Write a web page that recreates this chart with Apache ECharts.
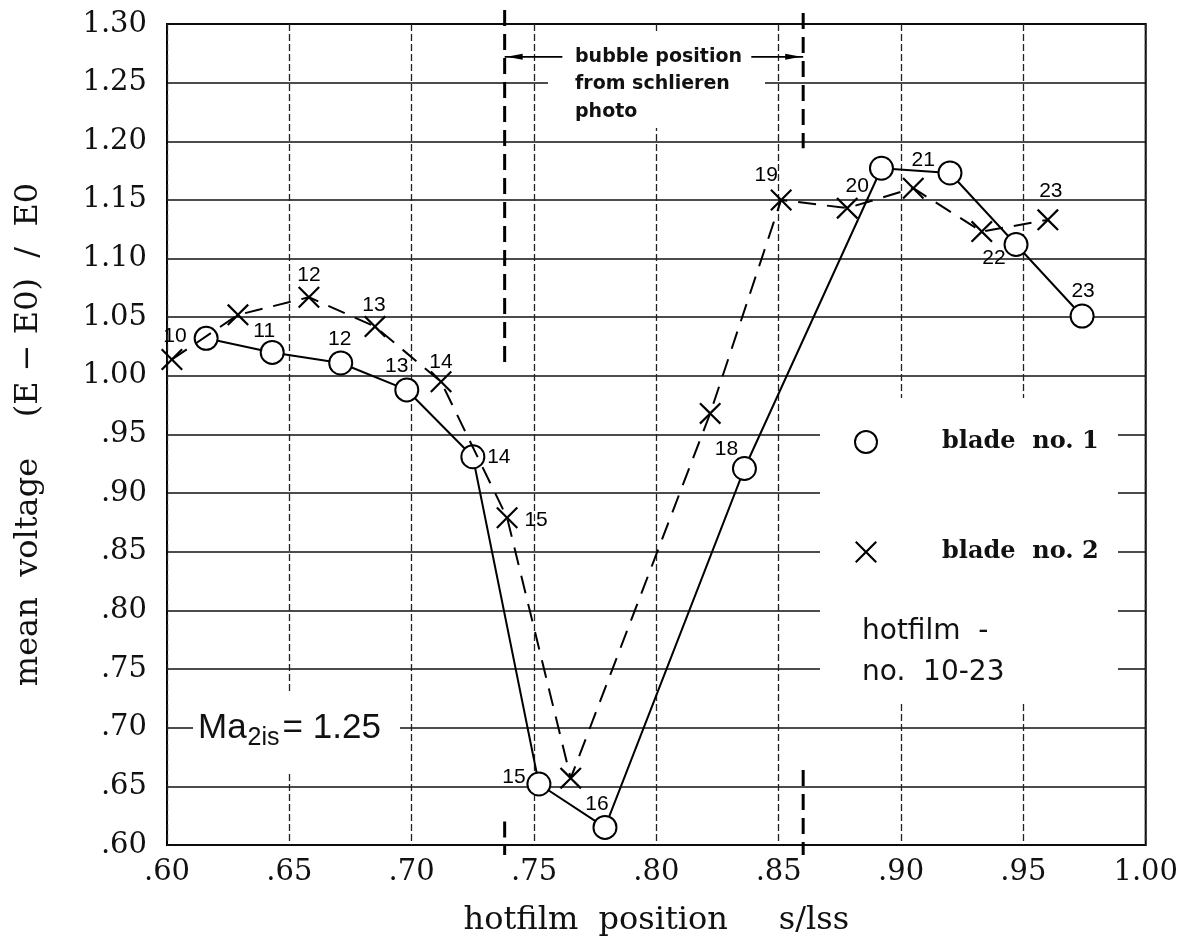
<!DOCTYPE html>
<html><head><meta charset="utf-8">
<script src="https://cdn.jsdelivr.net/npm/echarts@6/dist/echarts.min.js"></script>
<style>html,body{margin:0;padding:0;background:#fff}#c{width:1181px;height:945px}</style>
</head><body><div id="c"></div>
<script>
// ---- data ----
const blade1Ids = [10, 11, 12, 13, 14, 15, 16, 18, 20, 21, 22, 23];
const blade1X   = [0.616, 0.643, 0.671, 0.698, 0.725, 0.752, 0.779, 0.836, 0.892, 0.920, 0.947, 0.974];
const blade1Y   = [1.032, 1.020, 1.011, 0.988, 0.931, 0.652, 0.615, 0.921, 1.177, 1.173, 1.112, 1.051];

const blade2Ids = [10, 11, 12, 13, 14, 15, 16, 18, 19, 20, 21, 22, 23];
const blade2X   = [0.602, 0.629, 0.658, 0.685, 0.712, 0.739, 0.765, 0.822, 0.851, 0.878, 0.905, 0.933, 0.960];
const blade2Y   = [1.014, 1.052, 1.067, 1.042, 0.995, 0.879, 0.657, 0.968, 1.150, 1.143, 1.160, 1.123, 1.133];

const seriesNames = ['blade no. 1', 'blade no. 2'];
const bubbleRange = [0.738, 0.860];      // bubble position from schlieren photo
const machNumber = '1.25';
const xAxisName = 'hotfilm  position     s/lss';
const yAxisName = 'mean  voltage    (E − E0)  /  E0';

// ---- label placement (styling, not data) ----
const blade1LabelOffsets = {11:[-8,-21], 12:[-1,-24], 13:[-10,-24], 14:[26,0], 15:[-25,-7], 16:[-8,-23], 18:[-18,-19], 22:[-22,14], 23:[1,-25]};
const blade2LabelOffsets = {10:[3,-23], 12:[0,-22], 13:[-1,-21], 14:[0,-20], 15:[29,2], 19:[-15,-25], 20:[10,-22], 21:[10,-28], 23:[3,-29]};

const X_PATH = 'path://M0,0.7L0.7,0L5,4.3L9.3,0L10,0.7L5.7,5L10,9.3L9.3,10L5,5.7L0.7,10L0,9.3L4.3,5Z';
const labelFont = {fontFamily: 'Liberation Sans', fontSize: 21, color: '#000'};

function buildData(xs, ys, ids, offsets) {
  return xs.map((x, i) => {
    const item = {value: [x, ys[i]]};
    const off = offsets[ids[i]];
    if (off) {
      item.label = Object.assign({show: true, formatter: String(ids[i]), position: 'inside', offset: off}, labelFont);
    }
    return item;
  });
}
const fmtTick = v => { const s = (Math.round(v * 100) / 100).toFixed(2); return v < 0.999 ? s.slice(1) : s; };

const chart = echarts.init(document.getElementById('c'));
chart.setOption({
  animation: false,
  backgroundColor: '#fff',
  grid: {left: 167, right: 34, top: 24, bottom: 100, show: true, borderColor: '#000', borderWidth: 2, backgroundColor: 'transparent'},
  xAxis: {
    type: 'value', min: 0.6, max: 1.0, interval: 0.05,
    name: xAxisName, nameLocation: 'middle', nameGap: 60,
    nameTextStyle: {fontFamily: 'DejaVu Serif', fontSize: 32, color: '#111'},
    axisLine: {show: false}, axisTick: {show: false},
    axisLabel: {formatter: fmtTick, margin: 13, fontFamily: 'DejaVu Serif', fontSize: 29, color: '#111', showMinLabel: true, showMaxLabel: true},
    splitLine: {show: true, lineStyle: {color: '#222', width: 1.3, type: [7, 3]}}
  },
  yAxis: {
    type: 'value', min: 0.6, max: 1.3, interval: 0.05,
    name: yAxisName, nameLocation: 'middle', nameGap: 122, nameRotate: 90,
    nameTextStyle: {fontFamily: 'DejaVu Serif', fontSize: 32, color: '#111'},
    axisLine: {show: false}, axisTick: {show: false},
    axisLabel: {formatter: fmtTick, margin: 20, fontFamily: 'DejaVu Serif', fontSize: 29, color: '#111', showMinLabel: true, showMaxLabel: true},
    splitLine: {show: true, lineStyle: {color: '#111', width: 1.7, type: 'solid'}}
  },
  legend: {
    orient: 'vertical', left: 849, top: 422, itemWidth: 22, itemHeight: 22, itemGap: 80,
    selectedMode: false,
    formatter: n => n.replace(' ', '  '),
    textStyle: {fontFamily: 'DejaVu Serif', fontSize: 24, fontWeight: 'bold', color: '#111', lineHeight: 30, padding: [0, 0, 0, 60]},
    data: [
      {name: seriesNames[0], icon: 'circle', itemStyle: {color: '#fff', borderColor: '#000', borderWidth: 2}},
      {name: seriesNames[1], icon: X_PATH, itemStyle: {color: '#000', borderWidth: 0}}
    ]
  },
  series: [
    {
      name: seriesNames[0], type: 'line', z: 3,
      data: buildData(blade1X, blade1Y, blade1Ids, blade1LabelOffsets),
      symbol: 'emptyCircle', symbolSize: 23,
      itemStyle: {color: '#000', borderWidth: 2},
      lineStyle: {color: '#000', width: 2, type: 'solid'},
      emphasis: {disabled: true}
    },
    {
      name: seriesNames[1], type: 'line', z: 4,
      data: buildData(blade2X, blade2Y, blade2Ids, blade2LabelOffsets),
      symbol: X_PATH, symbolSize: 22,
      itemStyle: {color: '#000', borderWidth: 0},
      lineStyle: {color: '#000', width: 2, type: [18, 11]},
      emphasis: {disabled: true}
    }
  ]
});

// ---- annotations ----
function px(x, y) { return chart.convertToPixel({gridIndex: 0}, [x, y]); }
const gTop = 24, gBottom = 845;
const xL = px(bubbleRange[0], 1)[0], xR = px(bubbleRange[1], 1)[0];
const arrowY = px(0.7, 1.272)[1];
const dashStyle = {stroke: '#000', lineWidth: 3, lineDash: [16, 8]};
const g = [];
// white boxes interrupting the grid
g.push({type: 'rect', z: 1, shape: {x: 548, y: 32, width: 217, height: 96}, style: {fill: '#fff'}});
g.push({type: 'rect', z: 1, shape: {x: 820, y: 398, width: 298, height: 304}, style: {fill: '#fff'}});
g.push({type: 'rect', z: 1, shape: {x: 193, y: 692, width: 207, height: 80}, style: {fill: '#fff'}});
// bubble position dashed verticals
g.push({type: 'line', z: 5, shape: {x1: xL, y1: gTop - 14, x2: xL, y2: px(0.7, 1.005)[1]}, style: dashStyle});
g.push({type: 'line', z: 5, shape: {x1: xL, y1: px(0.7, 0.62)[1], x2: xL, y2: gBottom + 10}, style: dashStyle});
g.push({type: 'line', z: 5, shape: {x1: xR, y1: gTop - 11, x2: xR, y2: px(0.7, 1.194)[1]}, style: dashStyle});
g.push({type: 'line', z: 5, shape: {x1: xR, y1: px(0.7, 0.664)[1], x2: xR, y2: gBottom + 10}, style: dashStyle});
// arrows
const xLEnd = px(0.7616, 1)[0], xRStart = px(0.8388, 1)[0];
g.push({type: 'line', z: 5, shape: {x1: xL, y1: arrowY, x2: xLEnd, y2: arrowY}, style: {stroke: '#000', lineWidth: 1.6}});
g.push({type: 'polygon', z: 5, shape: {points: [[xL + 2, arrowY], [xL + 18, arrowY - 3], [xL + 18, arrowY + 3]]}, style: {fill: '#000'}});
g.push({type: 'line', z: 5, shape: {x1: xRStart, y1: arrowY, x2: xR, y2: arrowY}, style: {stroke: '#000', lineWidth: 1.6}});
g.push({type: 'polygon', z: 5, shape: {points: [[xR - 2, arrowY], [xR - 18, arrowY - 3], [xR - 18, arrowY + 3]]}, style: {fill: '#000'}});
// bubble text
const bubbleFont = {fontFamily: 'DejaVu Sans', fontSize: 19, fontWeight: 'bold', fill: '#111', verticalAlign: 'middle'};
['bubble position', 'from schlieren', 'photo'].forEach((t, i) => {
  g.push({type: 'text', z: 6, x: 575, y: 57 + i * 27.5, style: Object.assign({text: t}, bubbleFont)});
});
// Mach number
g.push({type: 'text', z: 6, x: 198, y: 728, style: {
  text: 'Ma{s|2is}= ' + machNumber, fontFamily: 'Liberation Sans', fontSize: 35, fill: '#111', verticalAlign: 'middle',
  rich: {s: {fontFamily: 'Liberation Sans', fontSize: 25, fill: '#111', padding: [20, 3, 0, 1]}}
}});
// hotfilm note
const noteFont = {fontFamily: 'DejaVu Sans', fontSize: 28, fill: '#111', verticalAlign: 'middle'};
g.push({type: 'text', z: 6, x: 862, y: 632, style: Object.assign({text: 'hotfilm  -'}, noteFont)});
g.push({type: 'text', z: 6, x: 862, y: 673, style: Object.assign({text: 'no.  10-23'}, noteFont)});
chart.setOption({graphic: g});
</script>
</body></html>
